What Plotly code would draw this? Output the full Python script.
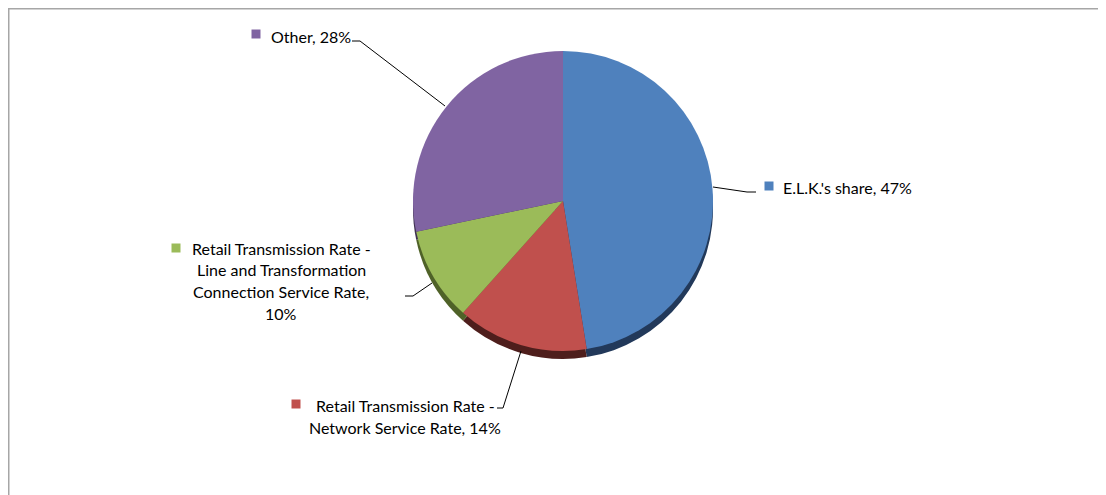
import plotly.graph_objects as go

# ---- data ----
categories = ["E.L.K.'s share",
              "Retail Transmission Rate - Network Service Rate",
              "Retail Transmission Rate - Line and Transformation Connection Service Rate",
              "Other"]
values = [47, 14, 10, 28]
colors = ["#4F81BD", "#C0504D", "#9BBB59", "#8064A2"]
dark_colors = ["#22395A", "#4E1E1C", "#4F6228", "#3F3151"]

W, H = 1106, 495
OX, OY = 8, 8  # page body margin compensation
def px(x): return (x - OX) / W
def py(y): return 1 - (y - OY) / H

cx, cy, r = 563, 201, 150
depth = 8

fig = go.Figure()
# depth (3D edge) layer
fig.add_trace(go.Pie(
    values=values, labels=categories, sort=False, direction="clockwise", rotation=0,
    marker=dict(colors=dark_colors, line=dict(width=0)), textinfo="none", hoverinfo="skip",
    domain=dict(x=[px(cx - r), px(cx + r)], y=[py(cy + depth + r), py(cy + depth - r)]),
    showlegend=False))
# top face
fig.add_trace(go.Pie(
    values=values, labels=categories, sort=False, direction="clockwise", rotation=0,
    marker=dict(colors=colors, line=dict(width=0)), textinfo="none",
    domain=dict(x=[px(cx - r), px(cx + r)], y=[py(cy + r), py(cy - r)]),
    showlegend=False))

total = sum(values)
pct = [f"{round(v / total * 100)}%" for v in values]

font = dict(family="Lato", size=16, color="#000000")
ann = []
shapes = []

def text(x, y, s, anchor="left"):
    ann.append(dict(x=px(x), y=py(y), xref="paper", yref="paper", text=s, showarrow=False,
                    xanchor=anchor, yanchor="middle", font=font))

def square(x, y, c, s=9):
    shapes.append(dict(type="rect", xref="paper", yref="paper",
                       x0=px(x - s / 2), x1=px(x + s / 2), y0=py(y + s / 2), y1=py(y - s / 2),
                       fillcolor=c, line=dict(width=0)))

def poly(pts):
    path = "M " + " L ".join(f"{px(x)},{py(y)}" for x, y in pts)
    shapes.append(dict(type="path", xref="paper", yref="paper", path=path,
                       line=dict(color="#000000", width=1)))

# E.L.K.
square(769, 186, colors[0])
text(781, 187, f"{categories[0]}, {pct[0]}")
poly([(713, 187), (747, 192), (756, 192)])

# Network service
square(296, 404, colors[1])
net_lines = ["Retail Transmission Rate -", f"Network Service Rate, {pct[1]}"]
text(405, 405, net_lines[0], "center")
text(405, 427, net_lines[1], "center")
poly([(497, 408), (503, 408), (521, 351)])

# Line and transformation
square(176, 248, colors[2])
lt_lines = ["Retail Transmission Rate -", "Line and Transformation",
            "Connection Service Rate,", pct[2]]
for i, s in enumerate(lt_lines):
    text(281, 248 + i * 21.8, s, "center")
poly([(405, 296), (413, 296), (432, 283)])

# Other
square(256, 34, colors[3])
text(269, 36, f"{categories[3]}, {pct[3]}")
poly([(352, 41), (360, 41), (445, 106)])

# chart frame
shapes.append(dict(type="path", xref="paper", yref="paper",
                   path=f"M {px(8.75)},{py(510)} L {px(8.75)},{py(8.75)} L {px(1120)},{py(8.75)}",
                   line=dict(color="#A6A6A6", width=1.5)))

fig.update_layout(width=W, height=H, margin=dict(l=0, r=0, t=0, b=0),
                  paper_bgcolor="white", plot_bgcolor="white",
                  annotations=ann, shapes=shapes, showlegend=False)
fig.write_html("out.html")
